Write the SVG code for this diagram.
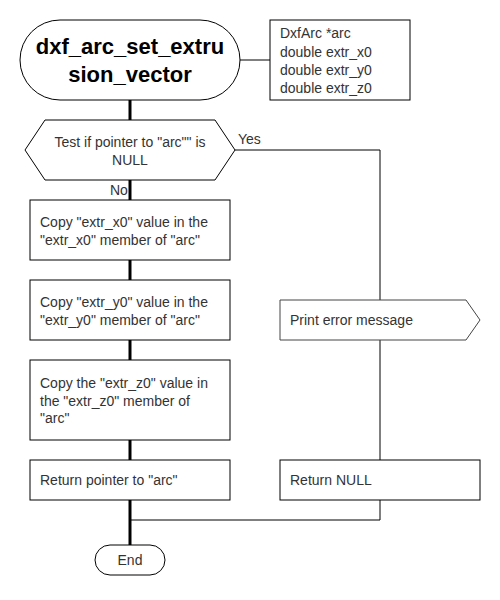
<svg xmlns="http://www.w3.org/2000/svg" width="500" height="600" viewBox="0 0 500 600">
<style>
.s{fill:#fff;stroke:#000;stroke-width:1}
.t{font-family:"Liberation Sans",Arial,sans-serif;font-size:14px;fill:#333}
.c{text-anchor:middle}
.ti{font-family:"Liberation Sans",Arial,sans-serif;font-size:22px;font-weight:bold;fill:#000;text-anchor:middle}
.thick{stroke:#000;stroke-width:3;fill:none}
.thin{stroke:#000;stroke-width:1;fill:none}
</style>
<rect width="500" height="600" fill="#fff"/>
<g id="connectors">
<line class="thin" x1="240" y1="60" x2="270" y2="60"/>
<line class="thick" x1="130" y1="100" x2="130" y2="120"/>
<line class="thick" x1="130" y1="180" x2="130" y2="200"/>
<line class="thick" x1="130" y1="260" x2="130" y2="280"/>
<line class="thick" x1="130" y1="340" x2="130" y2="360"/>
<line class="thick" x1="130" y1="440" x2="130" y2="460"/>
<line class="thick" x1="130" y1="500" x2="130" y2="545"/>
<polyline class="thin" points="235,150 380,150 380,300"/>
<line class="thin" x1="380" y1="340" x2="380" y2="460"/>
<polyline class="thin" points="380,500 380,520 130,520"/>
<text class="t" x="238" y="144">Yes</text>
<text class="t" x="110" y="195">No</text>
</g>
<g id="start">
<rect class="s" x="20" y="20" width="220" height="80" rx="40" ry="40"/>
<text class="ti" x="130" y="54">dxf_arc_set_extru</text>
<text class="ti" x="130" y="82">sion_vector</text>
</g>
<g id="params">
<rect class="s" x="270" y="20" width="140" height="80"/>
<text class="t" x="280" y="38">DxfArc *arc</text>
<text class="t" x="280" y="56.5">double extr_x0</text>
<text class="t" x="280" y="75">double extr_y0</text>
<text class="t" x="280" y="93">double extr_z0</text>
</g>
<g id="decision">
<polygon class="s" points="25,150 45,120 215,120 235,150 215,180 45,180"/>
<text class="t c" x="130" y="146.5">Test if pointer to "arc"" is</text>
<text class="t c" x="130" y="164.5">NULL</text>
</g>
<g id="copyx">
<rect class="s" x="30" y="200" width="200" height="60"/>
<text class="t" x="40" y="226.5">Copy "extr_x0" value in the</text>
<text class="t" x="40" y="244.5">"extr_x0" member of "arc"</text>
</g>
<g id="copyy">
<rect class="s" x="30" y="280" width="200" height="60"/>
<text class="t" x="40" y="306.5">Copy "extr_y0" value in the</text>
<text class="t" x="40" y="324.5">"extr_y0" member of "arc"</text>
</g>
<g id="copyz">
<rect class="s" x="30" y="360" width="200" height="80"/>
<text class="t" x="40" y="388">Copy the "extr_z0" value in</text>
<text class="t" x="40" y="405.5">the "extr_z0" member of</text>
<text class="t" x="40" y="423">"arc"</text>
</g>
<g id="retarc">
<rect class="s" x="30" y="460" width="200" height="40"/>
<text class="t" x="40" y="485">Return pointer to "arc"</text>
</g>
<g id="printerr">
<polygon class="s" points="280,300 466,300 480,320 466,340 280,340" style="stroke:#444"/>
<text class="t" x="290" y="325">Print error message</text>
</g>
<g id="retnull">
<rect class="s" x="280" y="460" width="200" height="40"/>
<text class="t" x="290" y="485">Return NULL</text>
</g>
<g id="end">
<rect class="s" x="95" y="545" width="70" height="30" rx="15" ry="15"/>
<text class="t c" x="130" y="565">End</text>
</g>
</svg>
